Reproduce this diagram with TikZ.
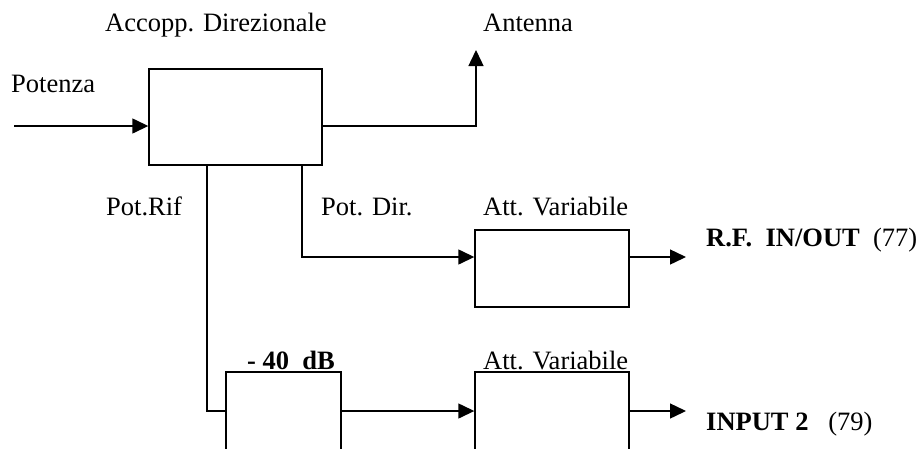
\documentclass[tikz,border=0pt]{standalone}
\usepackage{fontspec}
\setmainfont{Liberation Serif}
\usetikzlibrary{arrows.meta}

\tikzset{
    blk/.style={draw, line width=1.4pt, inner sep=0pt},
    sig/.style={line width=1.4pt, -{Triangle[length=16pt,width=15pt]}},
    wire/.style={line width=1.4pt},
    lbl/.style={anchor=base west, inner sep=0pt, font=\fontsize{26.5}{30}\selectfont},
}

\begin{document}
\begin{tikzpicture}[x=1pt, y=-1pt]
        \useasboundingbox (0,0) rectangle (921,448);
        \clip (0,0) rectangle (921,448);
        % blocchi
        \node[blk, minimum width=173pt, minimum height=96pt] (acc) at (235.5,117) {};
        \node[blk, minimum width=154pt, minimum height=77pt] (att1) at (552,268.5) {};
        \node[blk, minimum width=115pt, minimum height=100pt] (dB40) at (283.5,422) {};
        \node[blk, minimum width=154pt, minimum height=100pt] (att2) at (552,422) {};
        % punti di riferimento
        \coordinate (pin) at (14,126);
        \coordinate (ant) at (476,50);
        \coordinate (rif) at (207,411);
        \coordinate (dir) at (302,257);
        \coordinate (rfout) at (686,257);
        \coordinate (in2) at (686,411);
        % collegamenti
        \draw[sig] (pin) -- (pin -| acc.west);
        \draw[sig] (pin -| acc.east) -| (ant);
        \draw[wire] (rif |- acc.south) |- (rif -| dB40.west);
        \draw[sig] (dir |- acc.south) |- (dir -| att1.west);
        \draw[sig] (rif -| dB40.east) -- (rif -| att2.west);
        \draw[sig] (rfout -| att1.east) -- (rfout);
        \draw[sig] (in2 -| att2.east) -- (in2);
        % scritte
        \node[lbl] (tAcc) at (105,31) {Accopp. Direzionale};
        \node[lbl] (tAnt) at (483,31) {Antenna};
        \node[lbl] (tPot) at (11,92) {Potenza};
        \node[lbl] (tRif) at (106,215) {Pot.Rif};
        \node[lbl] (tDir) at (321,215) {Pot. Dir.};
        \node[lbl] (tAtt1) at (483,215) {Att. Variabile};
        \node[lbl] (tAtt2) at (483,369) {Att. Variabile};
        \node[lbl] (t40) at (247,369) {\bfseries -\ 40\ \ dB};
        \node[lbl] (tRF) at (706,246) {\textbf{R.F.\ \ IN/OUT}\ \ (77)};
        \node[lbl] (tIn2) at (706,430) {\textbf{INPUT 2}\ \ \ (79)};
\end{tikzpicture}
\end{document}
